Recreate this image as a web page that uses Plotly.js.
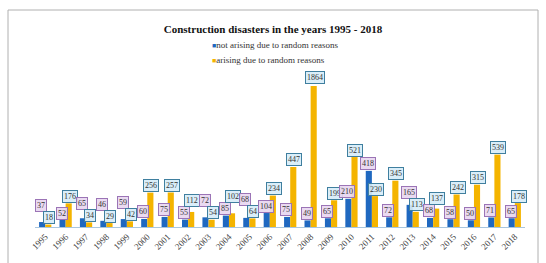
<!DOCTYPE html>
<html>
<head>
<meta charset="utf-8">
<script src="https://cdn.plot.ly/plotly-3.0.1.min.js"></script>
<style>
html,body{margin:0;padding:0;background:#fff;}
#chart{width:546px;height:263px;}
</style>
</head>
<body>
<div id="chart"></div>
<script>
// ---- data ----
const years = ['1995','1996','1997','1998','1999','2000','2001','2002','2003','2004','2005','2006',
               '2007','2008','2009','2010','2011','2012','2013','2014','2015','2016','2017','2018'];
const notRandom = [37,52,65,46,59,60,75,55,72,85,68,104,75,49,65,210,418,72,165,68,58,50,71,65];
const randomReasons = [18,176,34,29,42,256,257,112,54,102,64,234,447,1864,199,521,230,345,113,137,242,315,539,178];
const seriesNames = ['not arising due to random reasons','arising due to random reasons'];
const titleText = 'Construction disasters in the years 1995 - 2018';

// ---- layout constants ----
const W = 546, H = 263;
const M = {l: 35, r: 21, t: 86, b: 36};
const YMAX = 1050;
const plotH = H - M.t - M.b;
const plotW = W - M.l - M.r;
const serif = 'Liberation Serif, Times New Roman, serif';
const BLUE = '#1f68c0', GOLD = '#f4b400';
const colors = [BLUE, GOLD];

const traces = [
  {type: 'bar', name: seriesNames[0], x: years, y: notRandom,
   marker: {color: BLUE, line: {width: 0}}},
  {type: 'bar', name: seriesNames[1], x: years, y: randomReasons,
   marker: {color: GOLD, line: {width: 0}}}
];

// data-label callouts, stacked to avoid collisions
const px = v => Math.min(v, YMAX) * plotH / YMAX;
const annotations = [];
years.forEach((yr, i) => {
  const a = notRandom[i], b = randomReasons[i];
  let ca = px(a) + 7, cb = px(b) + 7;
  if (b >= YMAX) cb = px(b) + 9;
  if (a >= b && ca - cb < 12) ca = cb + 12;
  if (b > a && cb - ca < 12) cb = ca + 12;
  annotations.push({x: i, y: 0, xref: 'x', yref: 'y', yanchor: 'middle', xanchor: 'center',
    xshift: -4, yshift: ca, text: String(a), showarrow: false,
    font: {family: serif, size: 8, color: '#333'},
    bgcolor: 'rgba(232,214,240,0.9)', bordercolor: '#9b74b6', borderwidth: 1, borderpad: 1});
  annotations.push({x: i, y: 0, xref: 'x', yref: 'y', yanchor: 'middle', xanchor: 'center',
    xshift: 4, yshift: cb, text: String(b), showarrow: false,
    font: {family: serif, size: 8, color: '#333'},
    bgcolor: 'rgba(214,236,248,0.9)', bordercolor: '#3f7f9f', borderwidth: 1, borderpad: 1});
});

// compact legend drawn as text lines
const legendY = [45, 60];
seriesNames.forEach((name, k) => {
  annotations.push({xref: 'paper', yref: 'paper', x: (210 - M.l) / plotW, xanchor: 'left',
    y: 1 + (M.t - legendY[k]) / plotH, yanchor: 'middle', showarrow: false,
    text: '<span style="color:' + colors[k] + ';font-size:7px">■</span>' + name,
    font: {family: serif, size: 9, color: '#333'}});
});

const layout = {
  width: W, height: H,
  margin: M,
  paper_bgcolor: '#ffffff', plot_bgcolor: '#ffffff',
  barmode: 'group', bargap: 0.4, bargroupgap: 0,
  title: {text: '<b>' + titleText + '</b>', x: 0.5, xanchor: 'center',
          y: 1 - 29 / H, yref: 'container', yanchor: 'middle',
          font: {family: serif, size: 11, color: '#111'}},
  showlegend: false,
  xaxis: {type: 'category', range: [-0.5, years.length - 0.5], autorange: false,
          tickangle: -45, showgrid: false, zeroline: false,
          showline: true, linecolor: '#a9c6de', linewidth: 1, ticks: '',
          tickfont: {family: serif, size: 9, color: '#444'}},
  yaxis: {range: [0, YMAX], autorange: false, visible: false, showgrid: false, zeroline: false},
  annotations: annotations,
  shapes: [{type: 'rect', xref: 'paper', yref: 'paper',
            x0: -(M.l - 8) / plotW, x1: 1 + (M.r - 8) / plotW,
            y0: -(M.b + 5) / plotH, y1: 1 + (M.t - 10) / plotH,
            line: {color: '#b0b0b0', width: 1}}]
};

Plotly.newPlot('chart', traces, layout, {displayModeBar: false, staticPlot: true});
</script>
</body>
</html>
